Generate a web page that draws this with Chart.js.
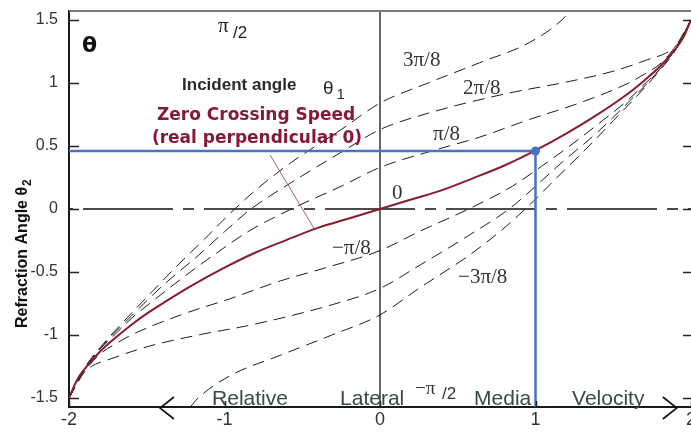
<!DOCTYPE html>
<html><head><meta charset="utf-8">
<script src="https://cdn.jsdelivr.net/npm/chart.js@4.4.1/dist/chart.umd.min.js"></script>
<style>html,body{margin:0;padding:0;background:#fff;overflow:hidden}#wrap{width:691px;height:434px;position:relative}</style>
</head><body><div id="wrap"><canvas id="c" width="691" height="434"></canvas></div>
<script>
// ---- data ----
const xTickValues = [-2, -1, 0, 1, 2];
const yTickValues = [-1.5, -1, -0.5, 0, 0.5, 1, 1.5];
const HALF_PI = Math.PI / 2;

// theta1 = 0 (zero crossing curve)
const zeroX = [-2,-1.95,-1.9,-1.8,-1.7,-1.6,-1.5,-1.4,-1.2,-1.0,-0.8,-0.6,-0.4,-0.2,0,0.2,0.4,0.6,0.8,1.0,1.2,1.4,1.6,1.7,1.8,1.9,1.95,2];
const zeroY = [-1.5,-1.36,-1.27,-1.13,-1.02,-0.92,-0.83,-0.75,-0.6,-0.465,-0.345,-0.245,-0.15,-0.075,0,0.075,0.15,0.245,0.345,0.465,0.6,0.75,0.92,1.02,1.13,1.27,1.36,1.5];
// theta1 = pi/8
const p1X = [-2,-1.9,-1.8,-1.7,-1.6,-1.43,-1.22,-1.04,-0.85,-0.57,-0.25,0,0.36,0.64,0.96,1.28,1.6,1.7,1.8,1.9,2];
const p1Y = [-1.5,-1.27,-1.11,-0.99,-0.87,-0.7,-0.5,-0.34,-0.18,0,0.18,0.33,0.47,0.57,0.71,0.84,1.0,1.07,1.15,1.29,1.5];
// theta1 = -pi/8
const m1X = [-2,-1.9,-1.8,-1.7,-1.6,-1.28,-0.96,-0.64,-0.36,0,0.25,0.57,0.85,1.04,1.22,1.43,1.6,1.7,1.8,1.9,2];
const m1Y = [-1.5,-1.29,-1.15,-1.07,-1.0,-0.84,-0.71,-0.57,-0.47,-0.33,-0.18,0,0.18,0.34,0.5,0.7,0.87,0.99,1.11,1.27,1.5];
// theta1 = 2pi/8
const p2X = [-2,-1.9,-1.75,-1.6,-1.39,-1.17,-1.0,-0.83,-0.57,-0.25,0,0.31,0.83,1.17,1.49,1.71,1.88,1.95,2];
const p2Y = [-1.5,-1.27,-1.04,-0.85,-0.6,-0.37,-0.18,0,0.21,0.45,0.63,0.76,0.92,1.0,1.09,1.18,1.27,1.37,1.5];
// theta1 = -2pi/8
const m2X = [-2,-1.95,-1.88,-1.71,-1.49,-1.17,-0.83,-0.31,0,0.25,0.57,0.83,1.0,1.17,1.39,1.6,1.75,1.9,2];
const m2Y = [-1.5,-1.37,-1.27,-1.18,-1.09,-1.0,-0.92,-0.76,-0.63,-0.45,-0.21,0,0.18,0.37,0.6,0.85,1.04,1.27,1.5];
// theta1 = 3pi/8
const p3X = [-2,-1.9,-1.8,-1.7,-1.5,-1.32,-1.13,-0.96,-0.78,-0.57,-0.25,0,0.31,0.64,0.96,1.17,1.22];
const p3Y = [-1.5,-1.26,-1.1,-0.96,-0.7,-0.47,-0.24,-0.03,0.17,0.37,0.63,0.84,1.0,1.16,1.32,1.5,1.5708];
// theta1 = -3pi/8
const m3X = [-1.22,-1.17,-0.96,-0.64,-0.31,0,0.25,0.57,0.78,0.96,1.13,1.32,1.5,1.7,1.8,1.9,2];
const m3Y = [-1.5708,-1.5,-1.32,-1.16,-1.0,-0.84,-0.63,-0.37,-0.17,0.03,0.24,0.47,0.7,0.96,1.1,1.26,1.5];
// blue marker lines (point at x=1)
const blueX = [-2, 1, 1];
const blueY = [0.46, 0.46, -HALF_PI];
// leader from label to zero curve
const leaderX = [-0.707, -0.418];
const leaderY = [0.4286, -0.167];

const pts = (xs, ys) => xs.map((x, i) => ({x, y: ys[i]}));

const dashed = (xs, ys) => ({
  data: pts(xs, ys), showLine: true, borderColor: '#1e1e1e', borderWidth: 1,
  borderDash: [12, 7], pointRadius: 0, cubicInterpolationMode: 'monotone', fill: false
});

const datasets = [
  {data: pts(blueX, blueY), showLine: true, borderColor: '#4a72c2', borderWidth: 2.5,
   pointRadius: [0, 4.5, 0], pointBackgroundColor: '#4a72c2', pointBorderWidth: 0, tension: 0},
  {data: pts(zeroX, zeroY), showLine: true, borderColor: '#861c2e', borderWidth: 2,
   pointRadius: 0, cubicInterpolationMode: 'monotone'},
  {data: pts(leaderX, leaderY), showLine: true, borderColor: '#a4625c', borderWidth: 1, pointRadius: 0},
  dashed(p1X, p1Y), dashed(m1X, m1Y), dashed(p2X, p2Y), dashed(m2X, m2Y), dashed(p3X, p3Y), dashed(m3X, m3Y),
  {data: [{x: 0, y: -HALF_PI}, {x: 0, y: HALF_PI}], showLine: true, borderColor: '#333', borderWidth: 1.5, pointRadius: 0},
  {data: [{x: -2, y: 0}, {x: 2, y: 0}], showLine: true, borderColor: '#111', borderWidth: 1.5,
   borderDash: [90, 10, 11, 10], borderDashOffset: 107, pointRadius: 0}
];

const SANS = "'Liberation Sans', Arial, sans-serif";
const SERIF = "'Liberation Serif', 'Times New Roman', serif";
const DEJA = "'DejaVu Sans', Verdana, sans-serif";

// text annotations anchored in data coordinates
const labels = [
  {t: 'θ', x: -1.916, y: 1.246, f: 'bold 22px ' + DEJA, c: '#111'},
  {t: 'π', x: -1.042, y: 1.405, f: '21px ' + SERIF, c: '#222'},
  {t: '/2', x: -0.945, y: 1.357, f: '17px ' + SANS, c: '#222'},
  {t: 'Incident angle', x: -1.273, y: 0.944, f: 'bold 17px ' + SANS, c: '#2a2a2a'},
  {t: 'θ', x: -0.367, y: 0.913, f: '19px ' + SANS, c: '#2a2a2a'},
  {t: '1', x: -0.28, y: 0.875, f: '15px ' + SANS, c: '#2a2a2a'},
  {t: 'Zero Crossing Speed', x: -0.797, y: 0.706, f: 'bold 17px ' + DEJA, c: '#861a36', a: 'center'},
  {t: '(real perpendicular 0)', x: -0.791, y: 0.524, f: 'bold 17px ' + DEJA, c: '#861a36', a: 'center'},
  {t: '3π/8', x: 0.148, y: 1.135, f: '21px ' + SERIF, c: '#333'},
  {t: '2π/8', x: 0.534, y: 0.913, f: '21px ' + SERIF, c: '#333'},
  {t: 'π/8', x: 0.341, y: 0.548, f: '21px ' + SERIF, c: '#333'},
  {t: '0', x: 0.077, y: 0.079, f: '21px ' + SERIF, c: '#333'},
  {t: '−π/8', x: -0.309, y: -0.357, f: '21px ' + SERIF, c: '#333'},
  {t: '−3π/8', x: 0.502, y: -0.587, f: '21px ' + SERIF, c: '#333'},
  {t: '−π', x: 0.225, y: -1.468, f: '19px ' + SERIF, c: '#333'},
  {t: '/2', x: 0.399, y: -1.508, f: '17px ' + SANS, c: '#333'},
  {t: 'Relative', x: -1.080, y: -1.556, f: '21px ' + SANS, c: '#3b4a40'},
  {t: 'Lateral', x: -0.257, y: -1.556, f: '21px ' + SANS, c: '#3b4a40'},
  {t: 'Media', x: 0.605, y: -1.556, f: '21px ' + SANS, c: '#3b4a40'},
  {t: 'Velocity', x: 1.235, y: -1.556, f: '21px ' + SANS, c: '#3b4a40'}
];
const arrowAnchors = [{x: -1.415, dir: -1}, {x: 1.909, dir: 1}];

const deco = {
  id: 'deco',
  afterDraw(chart) {
    const ctx = chart.ctx, xs = chart.scales.x, ys = chart.scales.y, ca = chart.chartArea;
    ctx.save();
    // top frame
    ctx.strokeStyle = '#7a7a7a'; ctx.lineWidth = 2;
    ctx.beginPath(); ctx.moveTo(ca.left, ca.top); ctx.lineTo(ca.right, ca.top); ctx.stroke();
    // inward ticks
    ctx.strokeStyle = '#222'; ctx.lineWidth = 1.5;
    yTickValues.forEach(v => {
      const py = Math.round(ys.getPixelForValue(v)) + 0.5;
      ctx.beginPath(); ctx.moveTo(ca.left, py); ctx.lineTo(ca.left + 10, py); ctx.stroke();
      ctx.beginPath(); ctx.moveTo(ca.right - 8, py); ctx.lineTo(ca.right, py); ctx.stroke();
    });
    xTickValues.forEach(v => {
      const px = Math.round(xs.getPixelForValue(v)) + 0.5;
      ctx.beginPath(); ctx.moveTo(px, ca.bottom); ctx.lineTo(px, ca.bottom - 6); ctx.stroke();
    });
    // arrows on the bottom axis
    ctx.strokeStyle = '#111'; ctx.lineWidth = 1.6;
    arrowAnchors.forEach(a => {
      const px = xs.getPixelForValue(a.x), py = ca.bottom + 1;
      ctx.beginPath();
      ctx.moveTo(px - a.dir * 14, py - 11); ctx.lineTo(px, py); ctx.lineTo(px - a.dir * 14, py + 11);
      ctx.stroke();
    });
    // labels
    ctx.textBaseline = 'alphabetic';
    labels.forEach(l => {
      ctx.font = l.f; ctx.fillStyle = l.c; ctx.textAlign = l.a || 'left';
      ctx.fillText(l.t, xs.getPixelForValue(l.x), ys.getPixelForValue(l.y));
    });
    // y-axis title
    ctx.translate(27, 328); ctx.rotate(-Math.PI / 2);
    ctx.textAlign = 'left'; ctx.fillStyle = '#111';
    ctx.font = 'bold 16px ' + SANS;
    const main = 'Refraction Angle θ';
    ctx.fillText(main, 0, 0);
    const w = ctx.measureText(main).width;
    ctx.font = 'bold 12px ' + SANS;
    ctx.fillText('2', w + 1, 4);
    ctx.restore();
  }
};

new Chart(document.getElementById('c'), {
  type: 'scatter',
  data: {datasets},
  options: {
    responsive: false, devicePixelRatio: 1, animation: false,
    layout: {padding: {top: 11, right: 0, left: 0, bottom: 0}},
    plugins: {legend: {display: false}, tooltip: {enabled: false}},
    elements: {line: {borderCapStyle: 'butt'}},
    scales: {
      x: {
        type: 'linear', min: -2, max: 2,
        afterBuildTicks: s => { s.ticks = xTickValues.map(v => ({value: v})); },
        afterFit: s => { s.height = 27; s.paddingLeft = 0; s.paddingRight = 0; },
        ticks: {font: {size: 18, family: SANS}, color: '#333', padding: 2, maxRotation: 0, autoSkip: false,
                callback: v => String(v)},
        grid: {display: false, drawTicks: false},
        border: {display: true, color: '#1a1a1a', width: 2}
      },
      y: {
        type: 'linear', min: -HALF_PI, max: HALF_PI,
        afterBuildTicks: s => { s.ticks = yTickValues.map(v => ({value: v})); },
        afterFit: s => { s.width = 69; s.paddingTop = 0; s.paddingBottom = 0; },
        ticks: {font: {size: 16, family: SANS}, color: '#333', padding: 11, autoSkip: false,
                callback: v => String(v)},
        grid: {display: false, drawTicks: false},
        border: {display: true, color: '#1a1a1a', width: 2}
      }
    }
  },
  plugins: [deco]
});
</script></body></html>
